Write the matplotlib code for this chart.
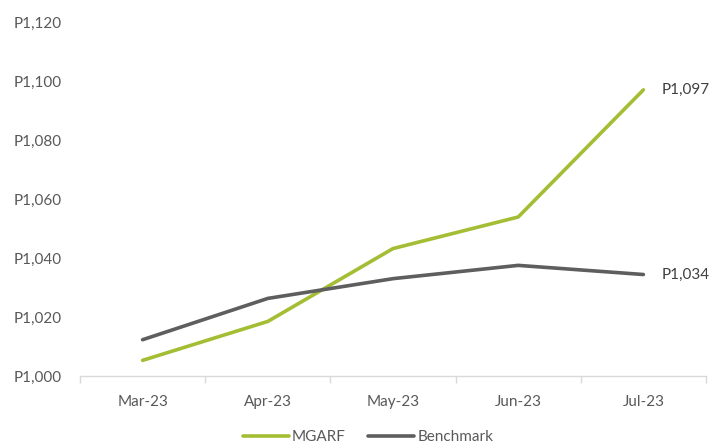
import matplotlib
matplotlib.use("Agg")
import matplotlib.pyplot as plt
from matplotlib.ticker import FuncFormatter, FixedLocator

months = ["Mar-23", "Apr-23", "May-23", "Jun-23", "Jul-23"]
mgarf = [1005.3, 1018.5, 1043.2, 1053.9, 1097.0]
benchmark = [1012.3, 1026.3, 1033.0, 1037.5, 1034.4]

plt.rcParams['font.family'] = ['Lato', 'DejaVu Sans']
text_color = "#595959"

fig = plt.figure(figsize=(7.21, 4.47), dpi=100)
ax = fig.add_axes([80/721, 1-376/447, (706-80)/721, (376-22)/447])

x = list(range(len(months)))
ax.plot(x, mgarf, color="#A3BE34", lw=2.6, label="MGARF", solid_capstyle="round")
ax.plot(x, benchmark, color="#5E5E5E", lw=2.6, label="Benchmark", solid_capstyle="round")

ax.set_xlim(-0.5, 4.5)
ax.set_ylim(1000, 1120)
ax.set_yticks(range(1000, 1121, 20))
ax.yaxis.set_major_formatter(FuncFormatter(lambda v, p: f"P{int(v):,}"))
ax.set_xticks(x)
ax.set_xticklabels(months)
ax.xaxis.set_minor_locator(FixedLocator([i - 0.5 for i in range(len(months) + 1)]))
ax.tick_params(axis='x', which='major', length=0, pad=14, labelsize=11, labelcolor=text_color)
ax.tick_params(axis='x', which='minor', length=5, color="#D9D9D9", width=1)
ax.tick_params(axis='y', length=0, pad=13, labelsize=11, labelcolor=text_color)
for s in ["top", "right", "left"]:
    ax.spines[s].set_visible(False)
ax.spines["bottom"].set_color("#D9D9D9")
ax.spines["bottom"].set_linewidth(1)

ax.annotate(f"P{mgarf[-1]:,.0f}", (x[-1], mgarf[-1]), xytext=(13, 0), textcoords="offset points",
            va="center", ha="left", fontsize=11, color="#404040", annotation_clip=False)
ax.annotate(f"P{benchmark[-1]:,.0f}", (x[-1], benchmark[-1]), xytext=(13, 0), textcoords="offset points",
            va="center", ha="left", fontsize=11, color="#404040", annotation_clip=False)

leg = fig.legend(loc="center", bbox_to_anchor=(368/721, 1-437/447), ncol=2, frameon=False,
                 fontsize=11, handlelength=3.0, handletextpad=0.2, columnspacing=1.5)
for t in leg.get_texts():
    t.set_color(text_color)

fig.savefig("out.png", dpi=100)
